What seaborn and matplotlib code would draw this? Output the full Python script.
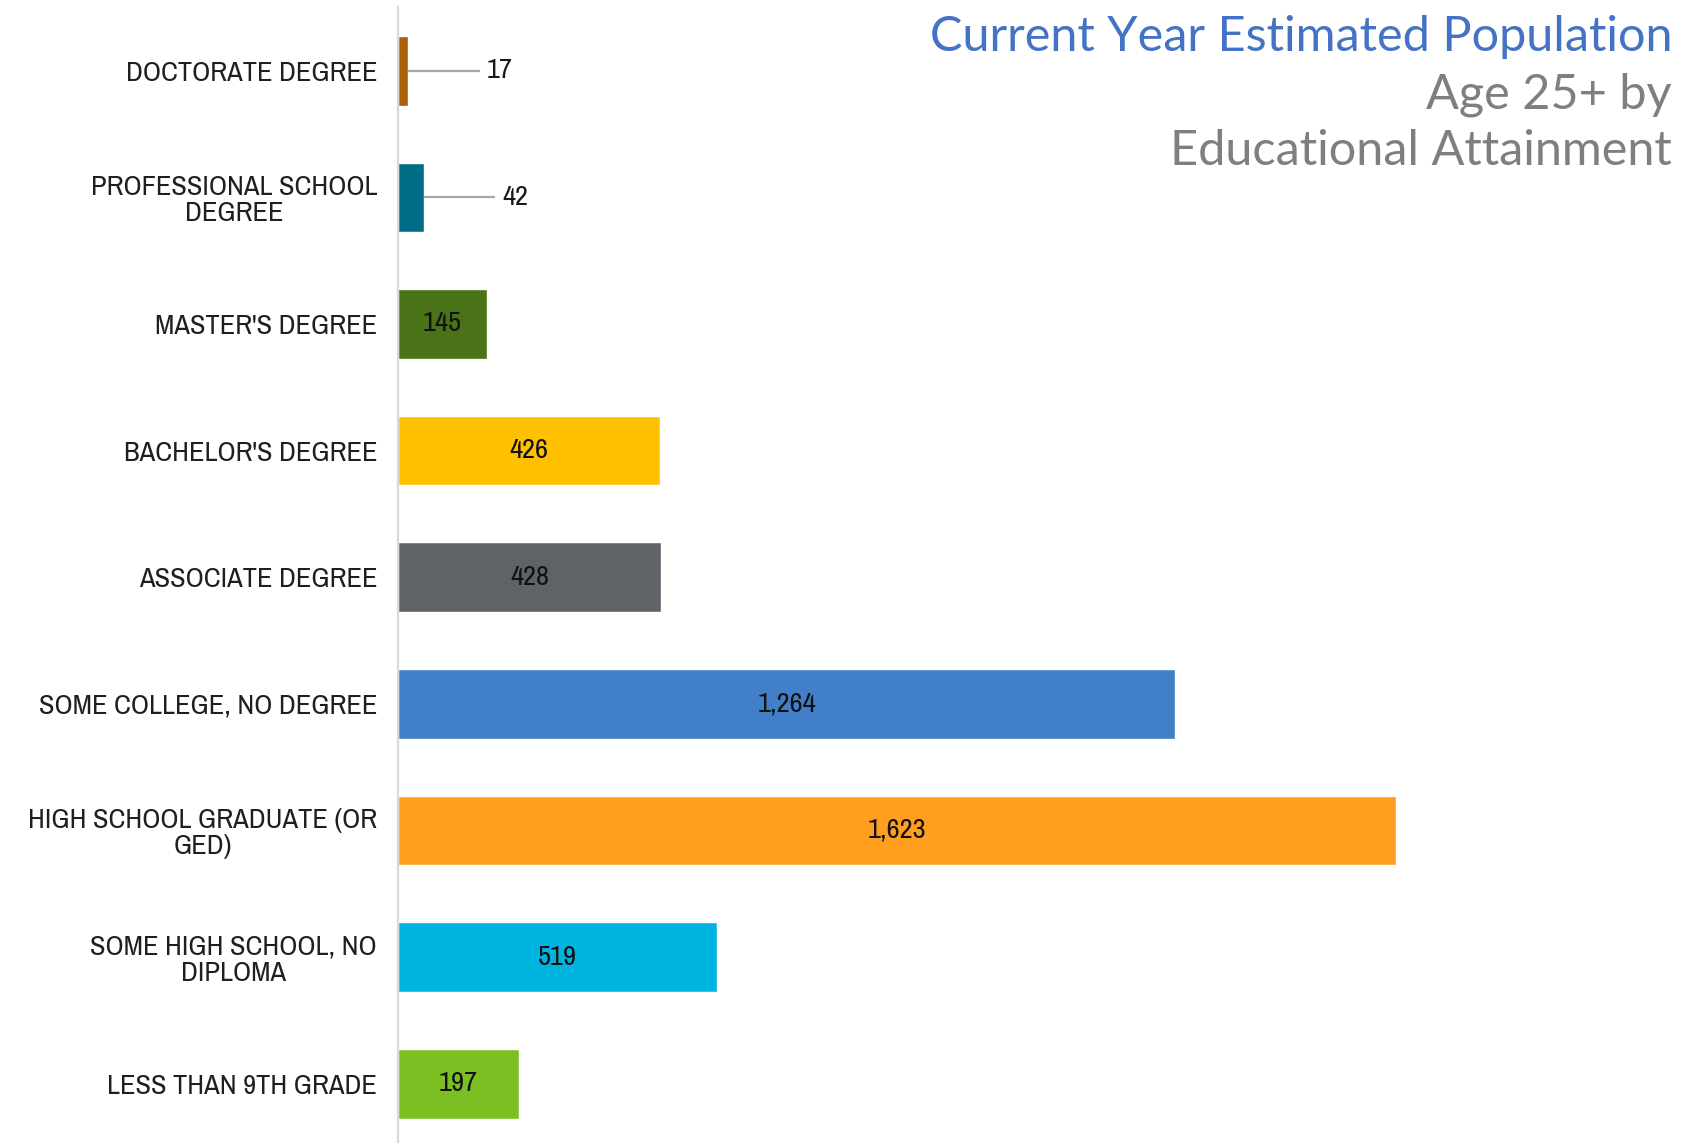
import matplotlib
matplotlib.use("Agg")
import matplotlib.pyplot as plt
from matplotlib import font_manager
import seaborn as sns
import pandas as pd

# Population age 25+ by highest level of educational attainment
categories = [
    "DOCTORATE DEGREE",
    "PROFESSIONAL SCHOOL\nDEGREE",
    "MASTER'S DEGREE",
    "BACHELOR'S DEGREE",
    "ASSOCIATE DEGREE",
    "SOME COLLEGE, NO DEGREE",
    "HIGH SCHOOL GRADUATE (OR\nGED)",
    "SOME HIGH SCHOOL, NO\nDIPLOMA",
    "LESS THAN 9TH GRADE",
]
population = [17, 42, 145, 426, 428, 1264, 1623, 519, 197]
bar_colors = [
    "#A8610A", "#006D87", "#4A7216", "#FFC000", "#5F6368",
    "#417FC9", "#FF9E1F", "#00B4E1", "#7BBF22",
]

title_main = "Current Year Estimated Population"
title_sub = ["Age 25+ by", "Educational Attainment"]

df = pd.DataFrame({"category": categories, "population": population})

sns.set_theme(style="white")
available = {f.name for f in font_manager.fontManager.ttflist}
title_font = "Lato" if "Lato" in available else "DejaVu Sans"

# an upright condensed face for the category and value labels
narrow_file = None
for f in font_manager.fontManager.ttflist:
    if "Narrow" in f.name and f.style == "normal" and f.weight in (400, "normal", "regular"):
        narrow_file = f.fname
        break
if narrow_file is None:
    for f in font_manager.fontManager.ttflist:
        if f.fname.rsplit("/", 1)[-1] == "DejaVuSansCondensed.ttf":
            narrow_file = f.fname
            break


def label_props(size):
    if narrow_file:
        return font_manager.FontProperties(fname=narrow_file, size=size)
    return font_manager.FontProperties(family="DejaVu Sans", size=size)


plt.rcParams["font.family"] = ["DejaVu Sans"]

fig = plt.figure(figsize=(16.97, 11.43), dpi=100)
ax = fig.add_axes([0.2345, -0.0035, 0.7655, 0.997])

sns.barplot(
    data=df, y="category", x="population", hue="category",
    palette=bar_colors, orient="h", width=0.55, saturation=1,
    legend=False, ax=ax,
)

ax.set_xlim(0, 2112)
ax.set_ylim(len(categories) - 0.5, -0.5)
ax.set_xlabel("")
ax.set_ylabel("")
ax.set_xticks([])

for side in ["top", "right", "bottom"]:
    ax.spines[side].set_visible(False)
ax.spines["left"].set_color("#D9D9D9")
ax.spines["left"].set_linewidth(1.6)

# category labels sit between boundary tick marks
ax.set_yticks(range(len(categories)))
ax.set_yticklabels(categories, color="#1F1F1F",
                   multialignment="center", linespacing=1.06)
for lbl in ax.get_yticklabels():
    lbl.set_fontproperties(label_props(20.5))
ax.tick_params(axis="y", which="major", length=0, pad=15)
ax.set_yticks([i - 0.5 for i in range(len(categories) + 1)], minor=True)
ax.tick_params(axis="y", which="minor", length=5, width=1.6, color="#D9D9D9")

# value labels: centred inside wide bars, with a leader line for narrow ones
for i, v in enumerate(population):
    text = f"{v:,}"
    if v < 100:
        ax.plot([v, v + 116], [i, i], color="#A6A6A6", lw=1.6,
                solid_capstyle="butt")
        ax.text(v + 128, i, text, ha="left", va="center",
                fontproperties=label_props(20.5), color="#1A1A1A")
    else:
        ax.text(v / 2, i, text, ha="center", va="center",
                fontproperties=label_props(20.5), color="#111111")

fig.text(0.9853, 0.9555, title_main, ha="right", va="baseline",
         fontsize=35, color="#4472C4", family=title_font)
fig.text(0.9853, 0.9055, title_sub[0], ha="right", va="baseline",
         fontsize=35, color="#7F7F7F", family=title_font)
fig.text(0.9853, 0.8555, title_sub[1], ha="right", va="baseline",
         fontsize=35, color="#7F7F7F", family=title_font)

fig.savefig("out.png", dpi=100, facecolor="white")
